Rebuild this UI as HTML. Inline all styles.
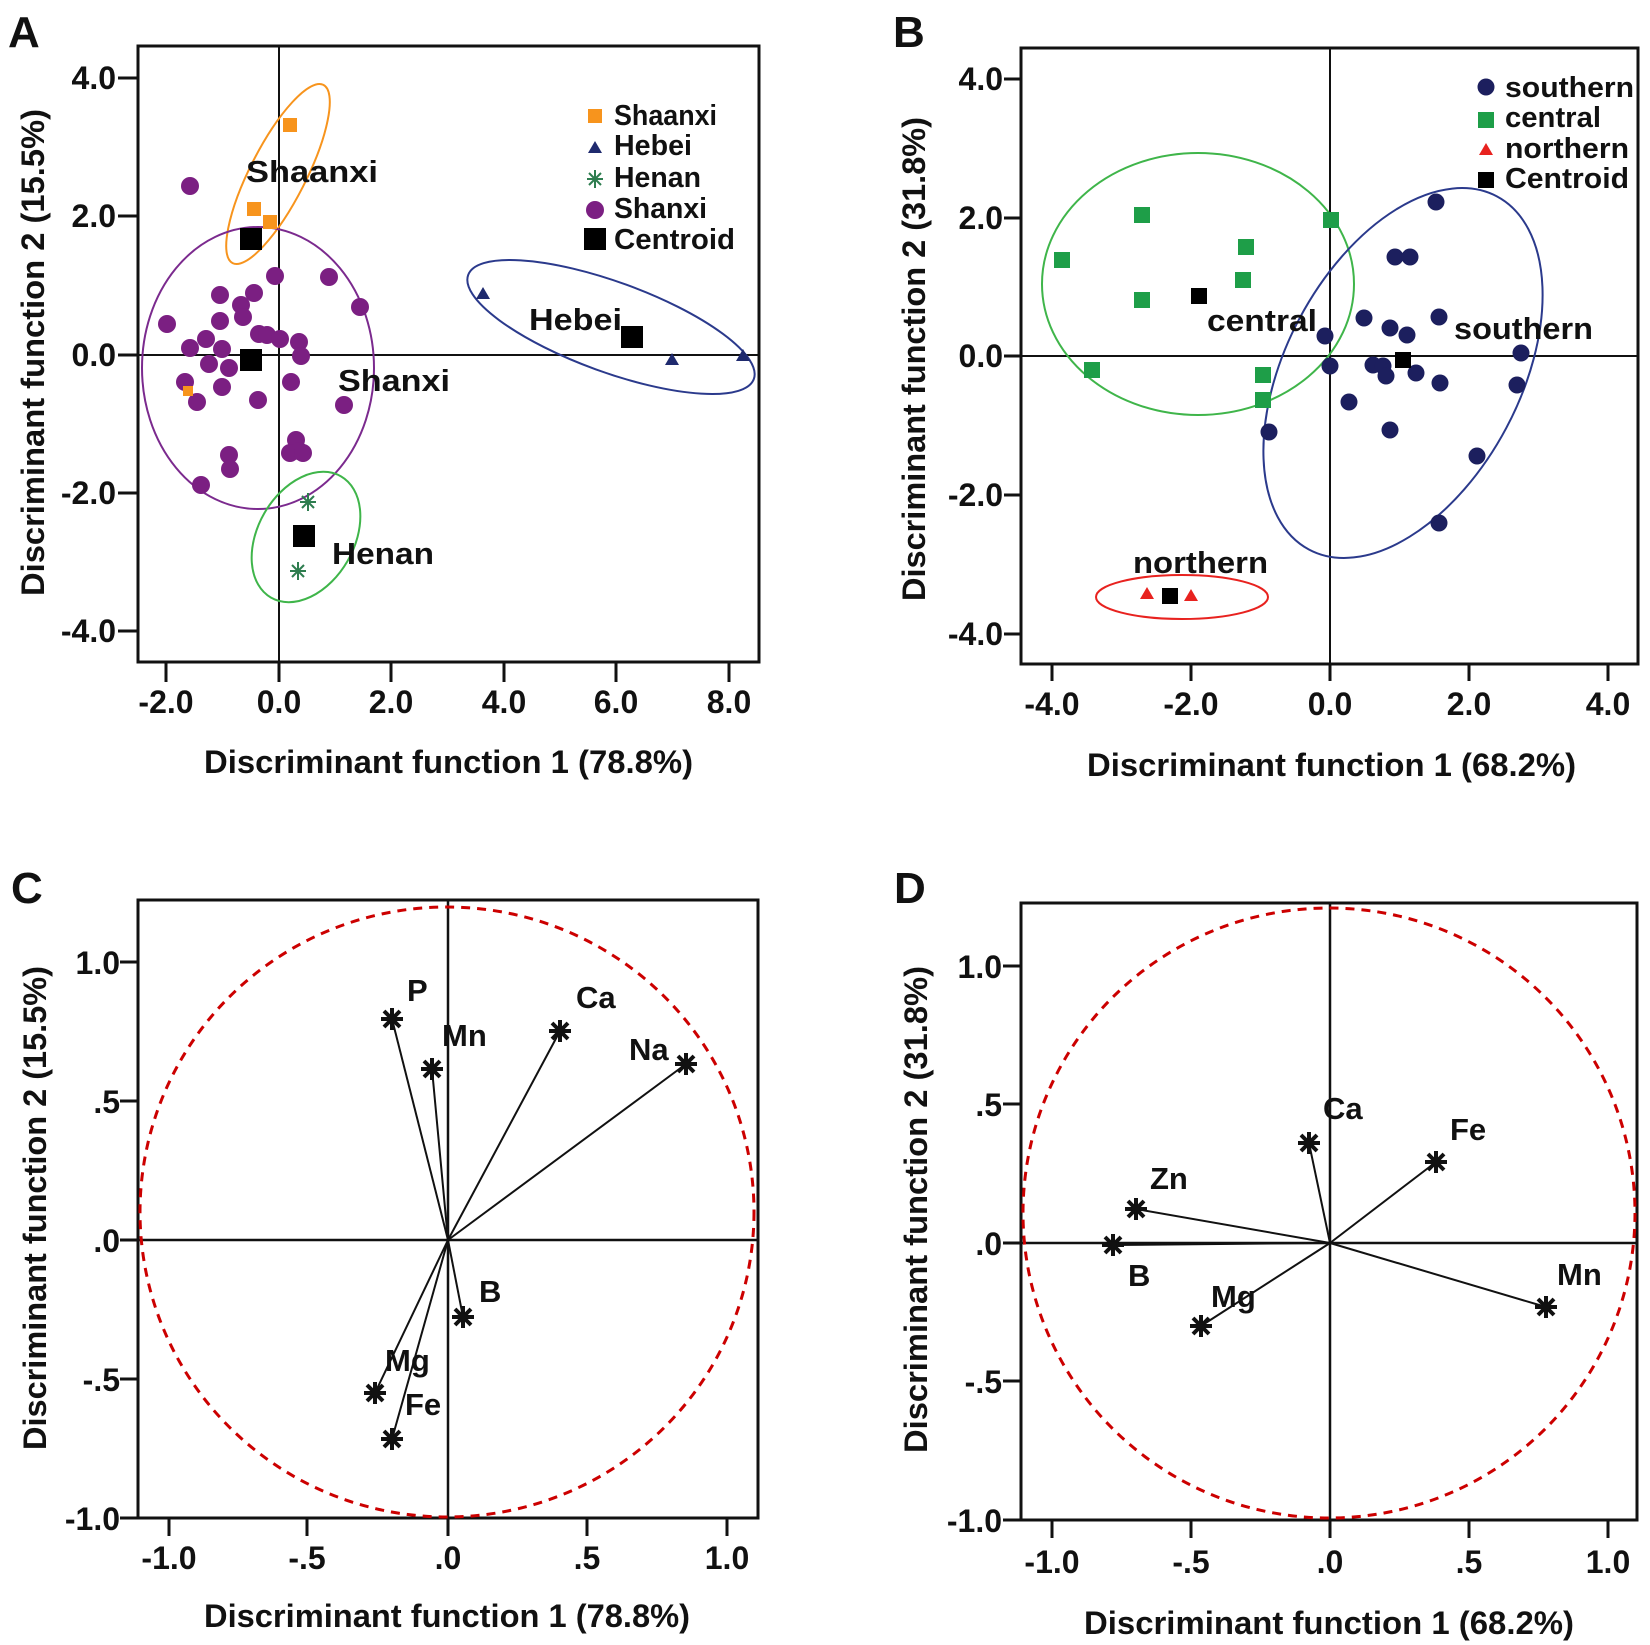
<!DOCTYPE html>
<html><head><meta charset="utf-8"><style>
html,body{margin:0;padding:0;background:#fff;}
svg{display:block;}
text{font-family:"Liberation Sans",Arial,sans-serif;font-weight:bold;fill:#111;}
.tk{font-size:32px;}
.ttl{font-size:32px;}
.lg{font-size:29px;}
.lb{font-size:31px;}
.pl{font-size:44px;}
</style></head><body>
<svg width="1650" height="1645" viewBox="0 0 1650 1645" xmlns="http://www.w3.org/2000/svg">
<defs>
<g id="st"><g stroke="#111" stroke-width="4" stroke-linecap="butt">
<line x1="-11" y1="0" x2="11" y2="0"/><line x1="0" y1="-11" x2="0" y2="11"/>
<line x1="-8" y1="-8" x2="8" y2="8"/><line x1="-8" y1="8" x2="8" y2="-8"/></g>
<circle r="4" fill="#111"/></g>
<g id="gs"><g stroke="#2e7d4f" stroke-width="2">
<line x1="-8" y1="0" x2="8" y2="0"/><line x1="0" y1="-9" x2="0" y2="9"/>
<line x1="-6" y1="-6" x2="6" y2="6"/><line x1="-6" y1="6" x2="6" y2="-6"/></g></g>
</defs>
<rect width="1650" height="1645" fill="#fff"/>

<!-- ============ PANEL A ============ -->
<text class="pl" x="8" y="47">A</text>
<g stroke="#111" fill="none">
<rect x="138" y="46" width="621" height="616" stroke-width="3"/>
<line x1="279" y1="46" x2="279" y2="662" stroke-width="2"/>
<line x1="138" y1="355" x2="759" y2="355" stroke-width="2"/>
<g stroke-width="3">
<line x1="118" y1="78" x2="138" y2="78"/><line x1="118" y1="216" x2="138" y2="216"/>
<line x1="118" y1="355" x2="138" y2="355"/><line x1="118" y1="493" x2="138" y2="493"/>
<line x1="118" y1="631" x2="138" y2="631"/>
<line x1="166" y1="662" x2="166" y2="682"/><line x1="279" y1="662" x2="279" y2="682"/>
<line x1="391" y1="662" x2="391" y2="682"/><line x1="504" y1="662" x2="504" y2="682"/>
<line x1="616" y1="662" x2="616" y2="682"/><line x1="729" y1="662" x2="729" y2="682"/>
</g></g>
<g class="tk" text-anchor="end">
<text x="116" y="89">4.0</text><text x="116" y="227">2.0</text><text x="116" y="366">0.0</text>
<text x="116" y="504">-2.0</text><text x="116" y="642">-4.0</text></g>
<g class="tk" text-anchor="middle">
<text x="166" y="713">-2.0</text><text x="279" y="713">0.0</text><text x="391" y="713">2.0</text>
<text x="504" y="713">4.0</text><text x="616" y="713">6.0</text><text x="729" y="713">8.0</text></g>
<text class="ttl" x="204" y="773" textLength="489" lengthAdjust="spacingAndGlyphs">Discriminant function 1 (78.8%)</text>
<text class="ttl" transform="translate(44,596) rotate(-90)" textLength="487" lengthAdjust="spacingAndGlyphs">Discriminant function 2 (15.5%)</text>

<!-- ellipses A -->
<g fill="none" stroke-width="2">
<ellipse cx="278" cy="174" rx="100" ry="28" transform="rotate(-63 278 174)" stroke="#f7941d"/>
<ellipse cx="258" cy="368" rx="116" ry="141" stroke="#7b2a8e"/>
<ellipse cx="611" cy="327" rx="152" ry="45" transform="rotate(20 611 327)" stroke="#2b3a8c"/>
<ellipse cx="306" cy="537" rx="70" ry="48" transform="rotate(-60 306 537)" stroke="#3fb54a"/>
</g>
<!-- Shanxi points -->
<g fill="#7b1f82">
<circle cx="190" cy="186" r="9"/><circle cx="167" cy="324" r="9"/><circle cx="190" cy="348" r="9"/>
<circle cx="206" cy="339" r="9"/><circle cx="220" cy="295" r="9"/><circle cx="220" cy="321" r="9"/>
<circle cx="241" cy="305" r="9"/><circle cx="243" cy="317" r="9"/><circle cx="254" cy="293" r="9"/>
<circle cx="275" cy="276" r="9"/><circle cx="329" cy="277" r="9"/><circle cx="360" cy="307" r="9"/>
<circle cx="259" cy="334" r="9"/><circle cx="267" cy="335" r="9"/><circle cx="280" cy="339" r="9"/>
<circle cx="299" cy="342" r="9"/><circle cx="301" cy="356" r="9"/><circle cx="209" cy="364" r="9"/>
<circle cx="222" cy="349" r="9"/><circle cx="229" cy="368" r="9"/><circle cx="185" cy="382" r="9"/>
<circle cx="222" cy="387" r="9"/><circle cx="197" cy="402" r="9"/><circle cx="258" cy="400" r="9"/>
<circle cx="291" cy="382" r="9"/><circle cx="344" cy="405" r="9"/><circle cx="229" cy="455" r="9"/>
<circle cx="230" cy="469" r="9"/><circle cx="201" cy="485" r="9"/><circle cx="296" cy="440" r="9"/>
<circle cx="299" cy="451" r="9"/><circle cx="290" cy="453" r="9"/><circle cx="303" cy="453" r="9"/>
</g>
<g fill="#f7941d">
<rect x="283" y="118" width="14" height="14"/><rect x="247" y="202" width="14" height="14"/>
<rect x="263" y="215" width="14" height="14"/><rect x="183" y="386" width="10" height="10"/>
</g>
<g fill="#1f2a6e">
<polygon points="483,287 490,299 476,299"/><polygon points="672,353 679,365 665,365"/><polygon points="743,349 750,361 736,361"/>
</g>
<use href="#gs" x="308" y="502"/><use href="#gs" x="298" y="571"/>
<g fill="#000">
<rect x="240" y="228" width="22" height="22"/><rect x="240" y="349" width="22" height="22"/>
<rect x="621" y="326" width="22" height="22"/><rect x="293" y="525" width="22" height="22"/>
</g>
<text class="lb" x="246" y="182" textLength="132" lengthAdjust="spacingAndGlyphs">Shaanxi</text>
<text class="lb" x="529" y="330" textLength="93" lengthAdjust="spacingAndGlyphs">Hebei</text>
<text class="lb" x="338" y="391" textLength="112" lengthAdjust="spacingAndGlyphs">Shanxi</text>
<text class="lb" x="332" y="564" textLength="102" lengthAdjust="spacingAndGlyphs">Henan</text>
<!-- legend A -->
<rect x="588" y="109" width="14" height="14" fill="#f7941d"/>
<polygon points="595,141 602,153 588,153" fill="#1f2a6e"/>
<use href="#gs" x="595" y="179"/>
<circle cx="595" cy="210" r="9" fill="#7b1f82"/>
<rect x="584" y="228" width="22" height="22" fill="#000"/>
<g class="lg">
<text x="614" y="125" textLength="103" lengthAdjust="spacingAndGlyphs">Shaanxi</text>
<text x="614" y="155" textLength="78" lengthAdjust="spacingAndGlyphs">Hebei</text>
<text x="614" y="187" textLength="87" lengthAdjust="spacingAndGlyphs">Henan</text>
<text x="614" y="218" textLength="93" lengthAdjust="spacingAndGlyphs">Shanxi</text>
<text x="614" y="249" textLength="121" lengthAdjust="spacingAndGlyphs">Centroid</text>
</g>

<!-- ============ PANEL B ============ -->
<text class="pl" x="893" y="47">B</text>
<g stroke="#111" fill="none">
<rect x="1021" y="48" width="617" height="616" stroke-width="3"/>
<line x1="1330" y1="48" x2="1330" y2="664" stroke-width="2"/>
<line x1="1021" y1="356" x2="1638" y2="356" stroke-width="2"/>
<g stroke-width="3">
<line x1="1004" y1="79" x2="1021" y2="79"/><line x1="1004" y1="218" x2="1021" y2="218"/>
<line x1="1004" y1="356" x2="1021" y2="356"/><line x1="1004" y1="495" x2="1021" y2="495"/>
<line x1="1004" y1="634" x2="1021" y2="634"/>
<line x1="1052" y1="664" x2="1052" y2="681"/><line x1="1191" y1="664" x2="1191" y2="681"/>
<line x1="1330" y1="664" x2="1330" y2="681"/><line x1="1469" y1="664" x2="1469" y2="681"/>
<line x1="1608" y1="664" x2="1608" y2="681"/>
</g></g>
<g class="tk" text-anchor="end">
<text x="1003" y="90">4.0</text><text x="1003" y="229">2.0</text><text x="1003" y="367">0.0</text>
<text x="1003" y="506">-2.0</text><text x="1003" y="645">-4.0</text></g>
<g class="tk" text-anchor="middle">
<text x="1052" y="715">-4.0</text><text x="1191" y="715">-2.0</text><text x="1330" y="715">0.0</text>
<text x="1469" y="715">2.0</text><text x="1608" y="715">4.0</text></g>
<text class="ttl" x="1087" y="776" textLength="489" lengthAdjust="spacingAndGlyphs">Discriminant function 1 (68.2%)</text>
<text class="ttl" transform="translate(925,601) rotate(-90)" textLength="484" lengthAdjust="spacingAndGlyphs">Discriminant function 2 (31.8%)</text>

<g fill="none" stroke-width="2">
<ellipse cx="1198" cy="284" rx="156" ry="131" stroke="#3fb54a"/>
<ellipse cx="1403" cy="373" rx="200" ry="117" transform="rotate(-62 1403 373)" stroke="#2b3a8c"/>
<ellipse cx="1182" cy="597" rx="86" ry="22" stroke="#e8221f"/>
</g>
<g fill="#1e9e48">
<rect x="1054" y="252" width="16" height="16"/><rect x="1134" y="207" width="16" height="16"/>
<rect x="1238" y="239" width="16" height="16"/><rect x="1235" y="272" width="16" height="16"/>
<rect x="1134" y="292" width="16" height="16"/><rect x="1084" y="362" width="16" height="16"/>
<rect x="1323" y="212" width="16" height="16"/><rect x="1255" y="367" width="16" height="16"/>
<rect x="1255" y="392" width="16" height="16"/>
</g>
<g fill="#1c1f5e">
<circle cx="1436" cy="202" r="8.5"/><circle cx="1395" cy="257" r="8.5"/><circle cx="1410" cy="257" r="8.5"/>
<circle cx="1364" cy="318" r="8.5"/><circle cx="1390" cy="328" r="8.5"/><circle cx="1407" cy="335" r="8.5"/>
<circle cx="1439" cy="317" r="8.5"/><circle cx="1325" cy="336" r="8.5"/><circle cx="1330" cy="366" r="8.5"/>
<circle cx="1373" cy="365" r="8.5"/><circle cx="1383" cy="366" r="8.5"/><circle cx="1386" cy="376" r="8.5"/>
<circle cx="1416" cy="373" r="8.5"/><circle cx="1440" cy="383" r="8.5"/><circle cx="1521" cy="353" r="8.5"/>
<circle cx="1517" cy="385" r="8.5"/><circle cx="1349" cy="402" r="8.5"/><circle cx="1390" cy="430" r="8.5"/>
<circle cx="1269" cy="432" r="8.5"/><circle cx="1477" cy="456" r="8.5"/><circle cx="1439" cy="523" r="8.5"/>
</g>
<g fill="#e8221f">
<polygon points="1147,587 1154,599 1140,599"/><polygon points="1191,589 1198,601 1184,601"/>
</g>
<g fill="#000">
<rect x="1191" y="288" width="16" height="16"/><rect x="1395" y="352" width="16" height="16"/>
<rect x="1162" y="588" width="16" height="16"/>
</g>
<text class="lb" x="1207" y="331" textLength="110" lengthAdjust="spacingAndGlyphs">central</text>
<text class="lb" x="1454" y="339" textLength="139" lengthAdjust="spacingAndGlyphs">southern</text>
<text class="lb" x="1133" y="573" textLength="135" lengthAdjust="spacingAndGlyphs">northern</text>
<!-- legend B -->
<circle cx="1486" cy="87" r="8.5" fill="#1c1f5e"/>
<rect x="1478" y="112" width="16" height="16" fill="#1e9e48"/>
<polygon points="1486,143 1493,155 1479,155" fill="#e8221f"/>
<rect x="1478" y="172" width="16" height="16" fill="#000"/>
<g class="lg">
<text x="1505" y="97" textLength="129" lengthAdjust="spacingAndGlyphs">southern</text>
<text x="1505" y="127" textLength="96" lengthAdjust="spacingAndGlyphs">central</text>
<text x="1505" y="158" textLength="124" lengthAdjust="spacingAndGlyphs">northern</text>
<text x="1505" y="188" textLength="124" lengthAdjust="spacingAndGlyphs">Centroid</text>
</g>

<!-- ============ PANEL C ============ -->
<text class="pl" x="11" y="903">C</text>
<g stroke="#111" fill="none">
<rect x="138" y="900" width="620" height="618" stroke-width="3"/>
<line x1="448" y1="900" x2="448" y2="1518" stroke-width="2.5"/>
<line x1="138" y1="1240" x2="758" y2="1240" stroke-width="2.5"/>
<g stroke-width="3">
<line x1="120" y1="962" x2="138" y2="962"/><line x1="120" y1="1101" x2="138" y2="1101"/>
<line x1="120" y1="1240" x2="138" y2="1240"/><line x1="120" y1="1379" x2="138" y2="1379"/>
<line x1="120" y1="1518" x2="138" y2="1518"/>
<line x1="169" y1="1518" x2="169" y2="1536"/><line x1="307" y1="1518" x2="307" y2="1536"/>
<line x1="448" y1="1518" x2="448" y2="1536"/><line x1="587" y1="1518" x2="587" y2="1536"/>
<line x1="727" y1="1518" x2="727" y2="1536"/>
</g></g>
<ellipse cx="447" cy="1212" rx="307" ry="305" fill="none" stroke="#cc0000" stroke-width="3" stroke-dasharray="9 7"/>
<g class="tk" text-anchor="end">
<text x="120" y="974">1.0</text><text x="120" y="1113">.5</text><text x="120" y="1252">.0</text>
<text x="120" y="1391">-.5</text><text x="120" y="1530">-1.0</text></g>
<g class="tk" text-anchor="middle">
<text x="169" y="1569">-1.0</text><text x="307" y="1569">-.5</text><text x="448" y="1569">.0</text>
<text x="587" y="1569">.5</text><text x="727" y="1569">1.0</text></g>
<text class="ttl" x="204" y="1627" textLength="486" lengthAdjust="spacingAndGlyphs">Discriminant function 1 (78.8%)</text>
<text class="ttl" transform="translate(46,1450) rotate(-90)" textLength="484" lengthAdjust="spacingAndGlyphs">Discriminant function 2 (15.5%)</text>
<g stroke="#111" stroke-width="2">
<line x1="448" y1="1240" x2="392" y2="1019"/><line x1="448" y1="1240" x2="432" y2="1069"/>
<line x1="448" y1="1240" x2="560" y2="1031"/><line x1="448" y1="1240" x2="686" y2="1064"/>
<line x1="448" y1="1240" x2="463" y2="1317"/><line x1="448" y1="1240" x2="375" y2="1393"/>
<line x1="448" y1="1240" x2="392" y2="1439"/>
</g>
<use href="#st" x="392" y="1019"/><use href="#st" x="432" y="1069"/><use href="#st" x="560" y="1031"/>
<use href="#st" x="686" y="1064"/><use href="#st" x="463" y="1317"/><use href="#st" x="375" y="1393"/>
<use href="#st" x="392" y="1439"/>
<g class="lb">
<text x="407" y="1001">P</text><text x="442" y="1046">Mn</text><text x="576" y="1008">Ca</text>
<text x="629" y="1060">Na</text><text x="479" y="1302">B</text><text x="385" y="1371">Mg</text>
<text x="405" y="1415">Fe</text></g>

<!-- ============ PANEL D ============ -->
<text class="pl" x="894" y="903">D</text>
<g stroke="#111" fill="none">
<rect x="1021" y="903" width="616" height="617" stroke-width="3"/>
<line x1="1330" y1="903" x2="1330" y2="1520" stroke-width="2.5"/>
<line x1="1021" y1="1243" x2="1637" y2="1243" stroke-width="2.5"/>
<g stroke-width="3">
<line x1="1003" y1="966" x2="1021" y2="966"/><line x1="1003" y1="1104" x2="1021" y2="1104"/>
<line x1="1003" y1="1243" x2="1021" y2="1243"/><line x1="1003" y1="1381" x2="1021" y2="1381"/>
<line x1="1003" y1="1520" x2="1021" y2="1520"/>
<line x1="1052" y1="1520" x2="1052" y2="1538"/><line x1="1191" y1="1520" x2="1191" y2="1538"/>
<line x1="1330" y1="1520" x2="1330" y2="1538"/><line x1="1469" y1="1520" x2="1469" y2="1538"/>
<line x1="1608" y1="1520" x2="1608" y2="1538"/>
</g></g>
<ellipse cx="1329" cy="1213" rx="306" ry="305" fill="none" stroke="#cc0000" stroke-width="3" stroke-dasharray="9 7"/>
<g class="tk" text-anchor="end">
<text x="1002" y="978">1.0</text><text x="1002" y="1116">.5</text><text x="1002" y="1255">.0</text>
<text x="1002" y="1393">-.5</text><text x="1002" y="1532">-1.0</text></g>
<g class="tk" text-anchor="middle">
<text x="1052" y="1573">-1.0</text><text x="1191" y="1573">-.5</text><text x="1330" y="1573">.0</text>
<text x="1469" y="1573">.5</text><text x="1608" y="1573">1.0</text></g>
<text class="ttl" x="1084" y="1634" textLength="490" lengthAdjust="spacingAndGlyphs">Discriminant function 1 (68.2%)</text>
<text class="ttl" transform="translate(927,1453) rotate(-90)" textLength="487" lengthAdjust="spacingAndGlyphs">Discriminant function 2 (31.8%)</text>
<g stroke="#111" stroke-width="2">
<line x1="1330" y1="1243" x2="1309" y2="1143"/><line x1="1330" y1="1243" x2="1436" y2="1162"/>
<line x1="1330" y1="1243" x2="1136" y2="1209"/><line x1="1330" y1="1243" x2="1113" y2="1245"/>
<line x1="1330" y1="1243" x2="1201" y2="1326"/><line x1="1330" y1="1243" x2="1546" y2="1307"/>
</g>
<use href="#st" x="1309" y="1143"/><use href="#st" x="1436" y="1162"/><use href="#st" x="1136" y="1209"/>
<use href="#st" x="1113" y="1245"/><use href="#st" x="1201" y="1326"/><use href="#st" x="1546" y="1307"/>
<g class="lb">
<text x="1323" y="1119">Ca</text><text x="1450" y="1140">Fe</text><text x="1150" y="1189">Zn</text>
<text x="1128" y="1286">B</text><text x="1211" y="1307">Mg</text><text x="1557" y="1285">Mn</text></g>
</svg>
</body></html>
